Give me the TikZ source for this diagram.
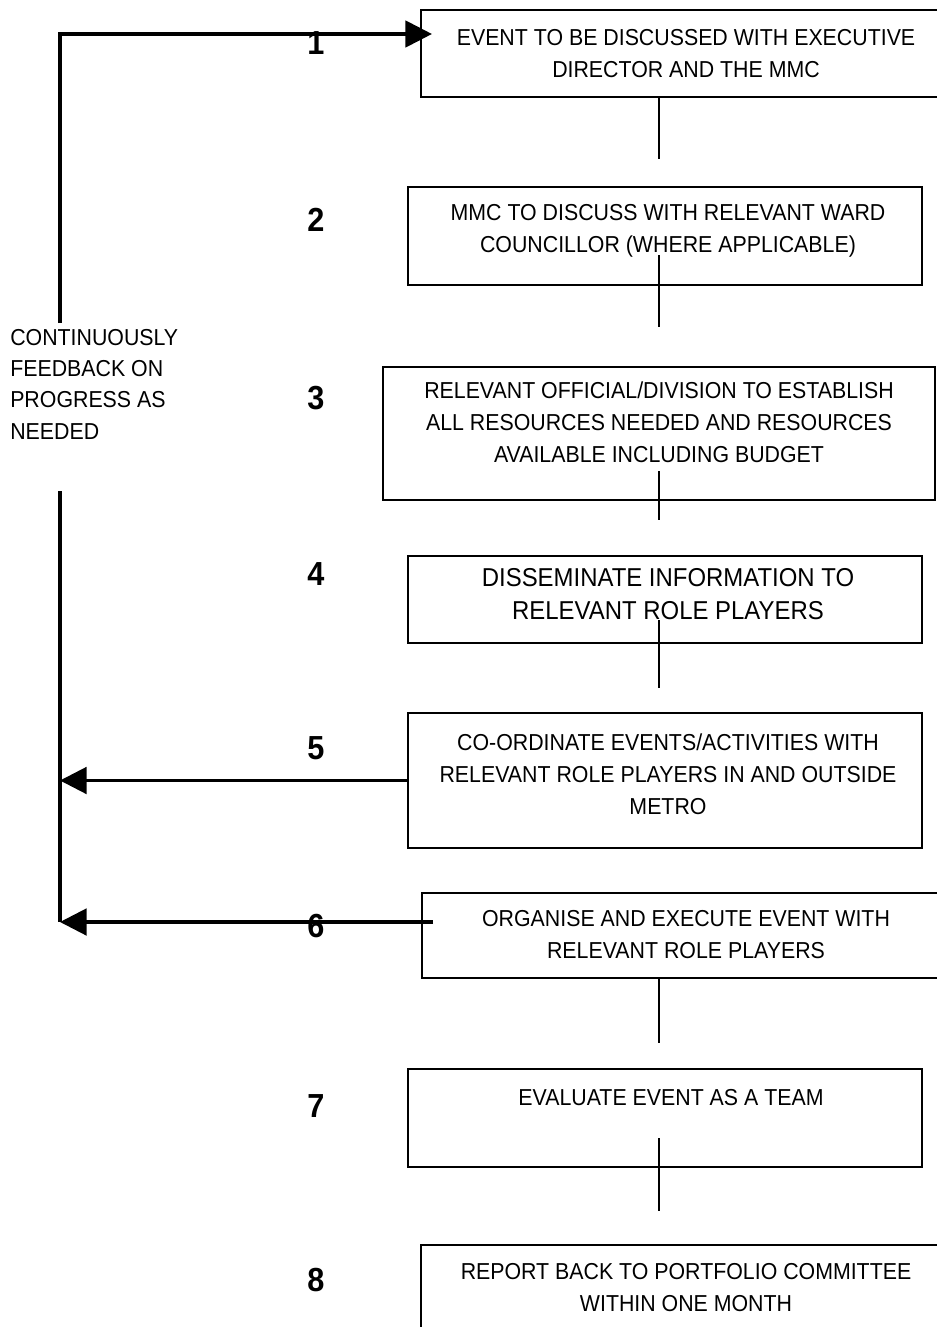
\documentclass[tikz,border=0pt]{standalone}
\usepackage{fontspec}
\setmainfont{Liberation Sans}[FakeStretch=0.925]
\newfontfamily\numfont{Liberation Sans}[FakeStretch=0.92]
\usetikzlibrary{arrows.meta, fit}
\tikzstyle{stage} = [rectangle, draw=black, line width=1.6pt, inner sep=0pt]
\tikzstyle{stagetext} = [align=center, inner sep=0pt, font=\fontsize{17.3}{24}\selectfont]
\tikzstyle{bigtext} = [align=center, inner sep=0pt, font=\fontsize{19.4}{25}\selectfont]
\tikzstyle{num} = [inner sep=0pt, font=\numfont\fontsize{25}{25}\selectfont\bfseries]
\tikzstyle{link} = [line width=1.4pt]
\tikzstyle{feed} = [line width=2.3pt]
\tikzstyle{arrow} = [line width=2.3pt, -{Triangle[length=20pt,width=20pt]}]

\begin{document}
\begin{tikzpicture}[x=0.75pt, y=-0.75pt]
\clip (0,0) rectangle (937,1327);
% boxes
\node (s1) [stage, fit={(421,10) (951,97)}] {};
\node (s2) [stage, fit={(408,187) (922,285)}] {};
\node (s3) [stage, fit={(383,367) (935,500)}] {};
\node (s4) [stage, fit={(408,556) (922,643)}] {};
\node (s5) [stage, fit={(408,713) (922,848)}] {};
\node (s6) [stage, fit={(422,893) (950,978)}] {};
\node (s7) [stage, fit={(408,1069) (922,1167)}] {};
\node (s8) [stage, fit={(421,1245) (950,1340)}] {};
% box texts
\node (t1) [stagetext] at (686,54) {EVENT TO BE DISCUSSED WITH EXECUTIVE\\DIRECTOR AND THE MMC};
\node (t2) [stagetext] at (668,231) {MMC TO DISCUSS WITH RELEVANT WARD\\COUNCILLOR (WHERE APPLICABLE)};
\node (t3) [stagetext] at (659,422) {RELEVANT OFFICIAL/DIVISION TO ESTABLISH\\ALL RESOURCES NEEDED AND RESOURCES\\AVAILABLE INCLUDING BUDGET};
\node (t4) [bigtext] at (668,594) {DISSEMINATE INFORMATION TO\\RELEVANT ROLE PLAYERS};
\node (t5) [stagetext] at (668,774) {CO-ORDINATE EVENTS/ACTIVITIES WITH\\RELEVANT ROLE PLAYERS IN AND OUTSIDE\\METRO};
\node (t6) [stagetext] at (686,935) {ORGANISE AND EXECUTE EVENT WITH\\RELEVANT ROLE PLAYERS};
\node (t7) [stagetext] at (671,1098) {EVALUATE EVENT AS A TEAM};
\node (t8) [stagetext] at (686,1288) {REPORT BACK TO PORTFOLIO COMMITTEE\\WITHIN ONE MONTH};
% step numbers
\node (n1) [num] at (316,43) {1};
\node (n2) [num] at (316,220) {2};
\node (n3) [num] at (316,398) {3};
\node (n4) [num] at (316,574) {4};
\node (n5) [num] at (316,748) {5};
\node (n6) [num] at (316,926) {6};
\node (n7) [num] at (316,1106) {7};
\node (n8) [num] at (316,1280) {8};
% feedback
\node (fb) [align=left, anchor=west, inner sep=0pt, font=\fontsize{17.3}{23.5}\selectfont] at (10,384) {CONTINUOUSLY\\FEEDBACK ON\\PROGRESS AS\\NEEDED};
\coordinate (fbtop) at (60,34);
\coordinate (fbmid) at (60,323);
\coordinate (fbresume) at (60,491);
\coordinate (fbbottom) at (60,922);
\coordinate (a6) at (433,922);
\draw [arrow, shorten >=-9pt] (fbmid) -- (fbtop) -- (fbtop -| s1.west);
\draw [feed] (fbresume) -- (fbbottom);
\draw [arrow] (s5.west) -- (s5.west -| fbbottom);
\draw [arrow] (a6) -- (fbbottom);
% links between boxes
\foreach \n/\a/\b in {1/97/159, 2/255/327, 3/471/520, 4/620/688, 6/978/1043, 7/1138/1211} {
  \coordinate (top\n) at (659,\a);
  \coordinate (end\n) at (659,\b);
  \draw [link] (top\n) -- (end\n);
}
\end{tikzpicture}
\end{document}
